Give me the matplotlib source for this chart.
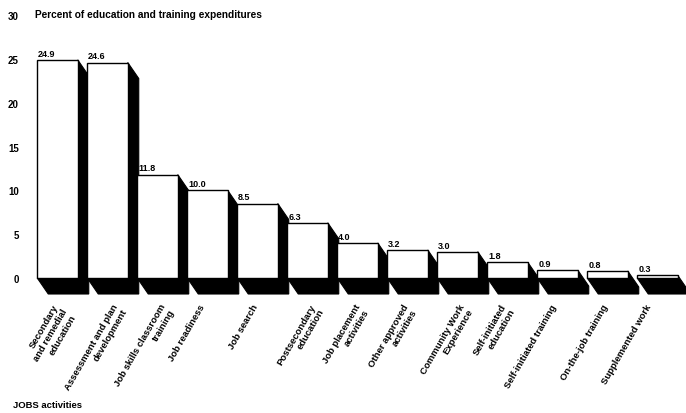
import matplotlib
matplotlib.use("Agg")
import matplotlib.pyplot as plt
from matplotlib.patches import Polygon, Rectangle

activities = [
    "Secondary\nand remedial\neducation",
    "Assessment and plan\ndevelopment",
    "Job skills classroom\ntraining",
    "Job readiness",
    "Job search",
    "Postsecondary\neducation",
    "Job placement\nactivities",
    "Other approved\nactivities",
    "Community Work\nExperience",
    "Self-initiated\neducation",
    "Self-initiated training",
    "On-the-job training",
    "Supplemented work",
]
percent = [24.9, 24.6, 11.8, 10.0, 8.5, 6.3, 4.0, 3.2, 3.0, 1.8, 0.9, 0.8, 0.3]
yticks = [0, 5, 10, 15, 20, 25, 30]

# small horizontal nudges (pixels) for the slanted category labels
label_nudge_px = [-5, 5, 2, -9, -5, 2, -3, -5, 1, -7, -7, -5, -12]

FONT = "Liberation Sans"
W, H = 686, 414
fig = plt.figure(figsize=(W / 100, H / 100), dpi=100)
fig.patch.set_facecolor("white")

# axes box in pixels
left_px, right_px = 30, 686
top_px, bot_px = 10, 300
ax = fig.add_axes([left_px / W, (H - bot_px) / H,
                   (right_px - left_px) / W, (bot_px - top_px) / H])

px_per_val = 8.76
zero_px = 279
ax.set_ylim((zero_px - bot_px) / px_per_val, (zero_px - top_px) / px_per_val)
px_per_cat = 50.0
x0_px = 57.5
ax.set_xlim((left_px - x0_px) / px_per_cat, (right_px - x0_px) / px_per_cat)

bar_w = 0.81
dx = 11 / px_per_cat
dy = 16 / px_per_val

for i, v in enumerate(percent):
    xl = i - bar_w / 2
    xr = i + bar_w / 2
    # dark extrusion: side face plus floor shadow
    ext = Polygon([(xr, v), (xr + dx, v - dy), (xr + dx, -dy), (xl + dx, -dy),
                   (xl, 0), (xr, 0)], closed=True, facecolor="black",
                   edgecolor="black", lw=0.8, zorder=2 + i * 2)
    ax.add_patch(ext)
    front = Rectangle((xl, 0), bar_w, v, facecolor="white", edgecolor="black",
                      lw=1.0, zorder=3 + i * 2)
    ax.add_patch(front)
    ax.text(xl + 0.02, v + 0.25, f"{v:.1f}", ha="left", va="bottom",
            fontsize=6.5, fontweight="bold", family=FONT, zorder=40)
    ax.text(i + label_nudge_px[i] / px_per_cat, (zero_px - 303) / px_per_val,
            activities[i], rotation=60, rotation_mode="anchor",
            ha="right", va="top", multialignment="right", fontsize=6.8,
            fontweight="bold", family=FONT, linespacing=1.15, clip_on=False)

ax.set_yticks(yticks)
ax.set_yticklabels([str(t) for t in yticks], fontsize=7, fontweight="bold",
                   family=FONT)
ax.set_xticks([])
ax.tick_params(axis="y", length=0, pad=8)
for s in ax.spines.values():
    s.set_visible(False)
ax.set_facecolor("none")

fig.text(35 / W, 1 - 15 / H, "Percent of education and training expenditures",
         ha="left", va="center", fontsize=7.3, fontweight="bold", family=FONT)
fig.text(13 / W, 1 - 406 / H, "JOBS activities", ha="left", va="center",
         fontsize=6.8, fontweight="bold", family=FONT)

fig.savefig("out.png", dpi=100, facecolor="white")
